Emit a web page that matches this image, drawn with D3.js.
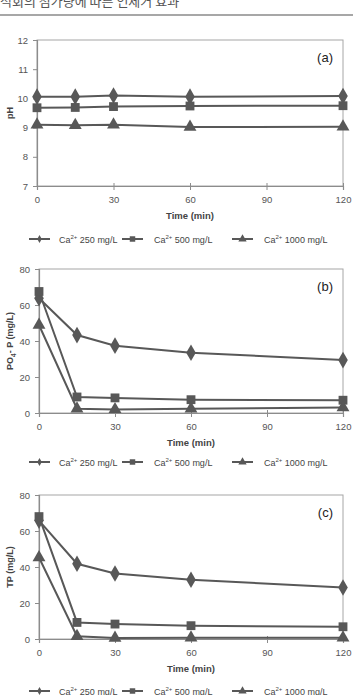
<!DOCTYPE html>
<html>
<head>
<meta charset="utf-8">
<script src="https://cdn.jsdelivr.net/npm/d3@7"></script>
<style>
  body { margin: 0; background: #fff; }
  svg { display: block; font-family: "Liberation Sans", "DejaVu Sans", sans-serif; }
</style>
</head>
<body>
<div id="chart"></div>
<script>
var width = 353, height = 695;

// sampling times (min)
const times = [0, 15, 30, 60, 120];
const xTicks = [0, 30, 60, 90, 120];

// (a) pH
const phCa250 = [10.06, 10.06, 10.1, 10.06, 10.08];
const phCa500 = [9.68, 9.69, 9.72, 9.74, 9.75];
const phCa1000 = [9.1, 9.08, 9.1, 9.02, 9.03];
const phTicks = [7, 8, 9, 10, 11, 12];

// (b) PO4-P (mg/L)
const po4Ca250 = [63.8, 43.3, 37.4, 33.5, 29.4];
const po4Ca500 = [67.5, 8.9, 8.4, 7.4, 7.1];
const po4Ca1000 = [48.9, 2.4, 2.0, 2.4, 3.0];
const po4Ticks = [0, 20, 40, 60, 80];

// (c) TP (mg/L)
const tpCa250 = [65.8, 41.8, 36.4, 32.9, 28.6];
const tpCa500 = [68.0, 9.2, 8.3, 7.4, 6.8];
const tpCa1000 = [45.3, 1.5, 0.6, 0.7, 0.7];
const tpTicks = [0, 20, 40, 60, 80];

const doses = ['250', '500', '1000'];
const markers = [d3.symbolDiamond, d3.symbolSquare, d3.symbolTriangle];
const markerSize = [80, 78, 72];

const ink = '#585858';

var svg = d3.select('#chart').append('svg')
    .attr('width', width)
    .attr('height', height);

// journal header, cut off at the top edge as in the scan
svg.append('text')
    .attr('x', 0)
    .attr('y', 5.5)
    .style('font-family', '"Noto Sans CJK KR", sans-serif')
    .style('font-size', '13px')
    .attr('fill', '#555')
    .text('석회의 첨가량에 따른 인제거 효과');

svg.append('line')
    .attr('x1', 0).attr('x2', width)
    .attr('y1', 15).attr('y2', 15)
    .attr('stroke', '#8a8a8a')
    .attr('stroke-width', 1.5);

function drawPanel(cfg) {
    let x = d3.scaleLinear().domain([0, 120]).range([cfg.left, 343]);
    let y = d3.scaleLinear().domain(cfg.domain).range([cfg.bottom, cfg.top]);
    let g = svg.append('g');

    // plot frame (light top/right)
    g.append('rect')
        .attr('x', cfg.left).attr('y', cfg.top)
        .attr('width', 343 - cfg.left).attr('height', cfg.bottom - cfg.top)
        .attr('fill', 'none')
        .attr('stroke', '#a6a6a6')
        .attr('stroke-width', 1);

    let yAxis = g.append('g')
        .attr('transform', 'translate(' + cfg.left + ',0)')
        .call(d3.axisLeft(y).tickValues(cfg.ticks).tickFormat(d3.format('d')).tickSize(4).tickPadding(5));
    let xAxis = g.append('g')
        .attr('transform', 'translate(0,' + cfg.bottom + ')')
        .call(d3.axisBottom(x).tickValues(xTicks).tickFormat(d3.format('d')).tickSize(4).tickPadding(6));

    [yAxis, xAxis].forEach(a => {
        a.select('.domain').attr('stroke', '#8c8c8c').attr('stroke-width', 1.2);
        a.selectAll('.tick line').attr('stroke', '#8c8c8c');
        a.selectAll('.tick text')
            .attr('fill', '#555')
            .style('font-size', '9.5px')
            .style('font-family', '"Liberation Sans", sans-serif');
    });
    xAxis.selectAll('.tick line').attr('y1', -3);

    // axis titles
    g.append('text')
        .attr('x', (cfg.left + 343) / 2)
        .attr('y', cfg.bottom + 33)
        .attr('text-anchor', 'middle')
        .attr('font-weight', 'bold')
        .attr('fill', '#444')
        .style('font-size', '9.5px')
        .text('Time (min)');

    let yt = g.append('text')
        .attr('transform', 'translate(' + 13 + ',' + (cfg.top + cfg.bottom) / 2 + ') rotate(-90)')
        .attr('text-anchor', 'middle')
        .attr('font-weight', 'bold')
        .attr('fill', '#444')
        .style('font-size', '9px');
    cfg.yTitle(yt);

    g.append('text')
        .attr('x', 333)
        .attr('y', cfg.top + 22)
        .attr('text-anchor', 'end')
        .attr('fill', '#222')
        .style('font-size', '13px')
        .text(cfg.tag);

    let line = d3.line()
        .x((d, i) => x(times[i]))
        .y(d => y(d));

    cfg.series.forEach((s, k) => {
        g.append('path')
            .datum(s)
            .attr('d', line)
            .attr('fill', 'none')
            .attr('stroke', ink)
            .attr('stroke-width', 2);
        g.selectAll(null)
            .data(s)
            .enter().append('path')
            .attr('transform', (d, i) => 'translate(' + x(times[i]) + ',' + y(d) + ')')
            .attr('d', d3.symbol().type(markers[k]).size(markerSize[k]))
            .attr('fill', ink);
    });

    // legend
    let lx = [29, 122, 232];
    let tx = [59, 154, 264];
    let ly = cfg.bottom + cfg.legendGap;
    doses.forEach((dose, k) => {
        g.append('line')
            .attr('x1', lx[k]).attr('x2', lx[k] + 21)
            .attr('y1', ly).attr('y2', ly)
            .attr('stroke', ink).attr('stroke-width', 2);
        g.append('path')
            .attr('transform', 'translate(' + (lx[k] + 10.5) + ',' + ly + ')')
            .attr('d', d3.symbol().type(markers[k]).size(k == 0 ? 18 : 30))
            .attr('fill', ink);
        let t = g.append('text')
            .attr('x', tx[k])
            .attr('y', ly + 3.5)
            .attr('fill', '#444')
            .style('font-size', '9px');
        t.append('tspan').text('Ca');
        t.append('tspan').attr('dy', -3.5).style('font-size', '6px').text('2+');
        t.append('tspan').attr('dy', 3.5).text(' ' + dose + ' mg/L');
    });
}

drawPanel({
    left: 37, top: 40, bottom: 186, domain: [7, 12], ticks: phTicks, tag: '(a)', legendGap: 53,
    series: [phCa250, phCa500, phCa1000],
    yTitle: t => t.text('pH')
});

drawPanel({
    left: 39, top: 269, bottom: 413, domain: [0, 80], ticks: po4Ticks, tag: '(b)', legendGap: 49,
    series: [po4Ca250, po4Ca500, po4Ca1000],
    yTitle: t => {
        t.append('tspan').text('PO');
        t.append('tspan').attr('dy', 2.5).style('font-size', '6.5px').text('4');
        t.append('tspan').attr('dy', -2.5).text('- P (mg/L)');
    }
});

drawPanel({
    left: 39, top: 495, bottom: 639, domain: [0, 80], ticks: tpTicks, tag: '(c)', legendGap: 52,
    series: [tpCa250, tpCa500, tpCa1000],
    yTitle: t => t.text('TP (mg/L)')
});
</script>
</body>
</html>
